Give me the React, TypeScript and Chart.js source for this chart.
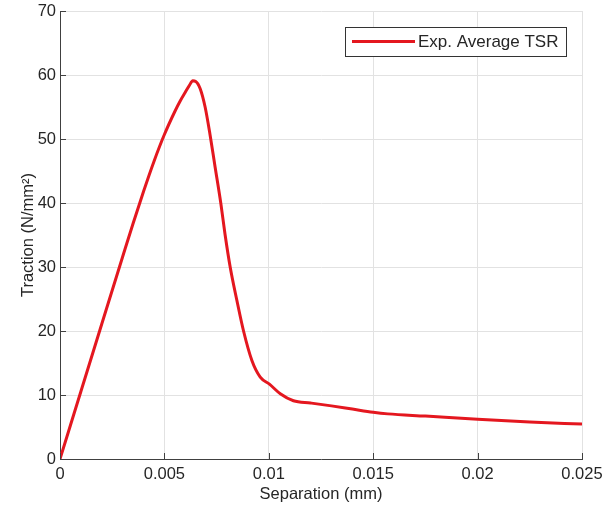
import { useEffect, useRef } from 'react';
import { Chart, registerables } from 'chart.js';

Chart.register(...registerables);

const seriesLabel = 'Exp. Average TSR';
const separation = [
  0, 0.001, 0.002, 0.003, 0.0035, 0.004, 0.0045, 0.005, 0.0055, 0.00575,
  0.006, 0.0062, 0.00636, 0.0065, 0.00671, 0.00695, 0.00719, 0.00743, 0.0077,
  0.0079, 0.00815, 0.00847, 0.00879, 0.00919, 0.00959, 0.01003, 0.01055, 0.01118,
  0.012, 0.013, 0.014, 0.015, 0.0157, 0.0175, 0.02, 0.0225, 0.025,
];
const traction = [
  0, 10.55, 21.1, 31.6, 36.8, 41.8, 46.5, 50.7, 54.3, 55.9,
  57.3, 58.4, 59.1, 59.0, 57.9, 55.0, 50.6, 45.6, 40.0,
  35.2, 30.0, 24.8, 20.0, 15.4, 12.8, 11.7, 10.2, 9.1,
  8.75, 8.3, 7.8, 7.3, 7.05, 6.7, 6.2, 5.8, 5.45,
];
const xTicks = [0, 0.005, 0.01, 0.015, 0.02, 0.025];
const yTicks = [0, 10, 20, 30, 40, 50, 60, 70];

const FONT = '"Liberation Sans", Arial, Helvetica, sans-serif';
const TEXT = '#262626';
const RED = '#e4171f';

const inwardTicks = {
  id: 'inwardTicks',
  afterDraw(chart: any) {
    const { ctx, chartArea } = chart;
    const xs = chart.scales.x;
    const ys = chart.scales.y;
    ctx.save();
    ctx.strokeStyle = '#404040';
    ctx.lineWidth = 1;
    ctx.beginPath();
    xs.ticks.forEach((t: any) => {
      const px = Math.round(xs.getPixelForValue(t.value)) + 0.5;
      ctx.moveTo(px, chartArea.bottom);
      ctx.lineTo(px, chartArea.bottom - 6);
    });
    ys.ticks.forEach((t: any) => {
      const py = Math.round(ys.getPixelForValue(t.value)) + 0.5;
      ctx.moveTo(chartArea.left, py);
      ctx.lineTo(chartArea.left + 6, py);
    });
    ctx.stroke();
    ctx.restore();
  },
};

const boxLegend = {
  id: 'boxLegend',
  afterDraw(chart: any) {
    const { ctx } = chart;
    const ds = chart.data.datasets[0];
    ctx.save();
    ctx.fillStyle = '#ffffff';
    ctx.fillRect(345.5, 27.5, 221, 29);
    ctx.strokeStyle = '#333333';
    ctx.lineWidth = 1;
    ctx.strokeRect(345.5, 27.5, 221, 29);
    ctx.strokeStyle = ds.borderColor;
    ctx.lineWidth = 3;
    ctx.beginPath();
    ctx.moveTo(352, 41.5);
    ctx.lineTo(415, 41.5);
    ctx.stroke();
    ctx.fillStyle = TEXT;
    ctx.font = `17px ${FONT}`;
    ctx.textBaseline = 'middle';
    ctx.textAlign = 'left';
    ctx.fillText(ds.label, 418, 42);
    ctx.restore();
  },
};

export default function App() {
  const ref = useRef<HTMLCanvasElement | null>(null);
  useEffect(() => {
    if (!ref.current) return;
    const chart = new Chart(ref.current, {
      type: 'line',
      data: {
        datasets: [
          {
            label: seriesLabel,
            data: separation.map((x, i) => ({ x, y: traction[i] })),
            borderColor: RED,
            backgroundColor: RED,
            borderWidth: 3,
            pointRadius: 0,
            cubicInterpolationMode: 'monotone',
            fill: false,
          },
        ],
      },
      options: {
        responsive: false,
        animation: false,
        layout: { padding: { top: 11, right: 21, left: 0, bottom: 0 }, autoPadding: false },
        plugins: { legend: { display: false }, tooltip: { enabled: false } },
        scales: {
          x: {
            type: 'linear',
            min: 0,
            max: 0.025,
            afterBuildTicks: (s: any) => {
              s.ticks = xTicks.map((v) => ({ value: v }));
            },
            afterFit: (s: any) => {
              s.height = 50;
              s.paddingLeft = 0;
              s.paddingRight = 0;
            },
            grid: { color: '#e2e2e2', drawTicks: false },
            border: { display: true, color: '#404040', width: 1 },
            ticks: {
              padding: 6,
              color: TEXT,
              font: { family: FONT, size: 16.5 },
              maxRotation: 0,
              callback: (v: any) => String(Number(Number(v).toPrecision(6))),
            },
            title: {
              display: true,
              text: 'Separation (mm)',
              color: TEXT,
              font: { family: FONT, size: 16.5 },
              padding: { top: 0, bottom: 5 },
            },
          },
          y: {
            min: 0,
            max: 70,
            afterBuildTicks: (s: any) => {
              s.ticks = yTicks.map((v) => ({ value: v }));
            },
            afterFit: (s: any) => {
              s.width = 60;
              s.paddingTop = 0;
              s.paddingBottom = 0;
            },
            grid: { color: '#e2e2e2', drawTicks: false },
            border: { display: true, color: '#404040', width: 1 },
            ticks: {
              padding: 4,
              color: TEXT,
              font: { family: FONT, size: 16.5 },
            },
            title: {
              display: true,
              text: 'Traction (N/mm²)',
              color: TEXT,
              font: { family: FONT, size: 16.5 },
              padding: { top: 19, bottom: 0 },
            },
          },
        },
      },
      plugins: [inwardTicks, boxLegend],
    });
    return () => chart.destroy();
  }, []);
  return (
    <div style={{ position: 'absolute', left: 0, top: 0, width: 603, height: 509 }}>
      <canvas ref={ref} width={603} height={509} />
    </div>
  );
}
